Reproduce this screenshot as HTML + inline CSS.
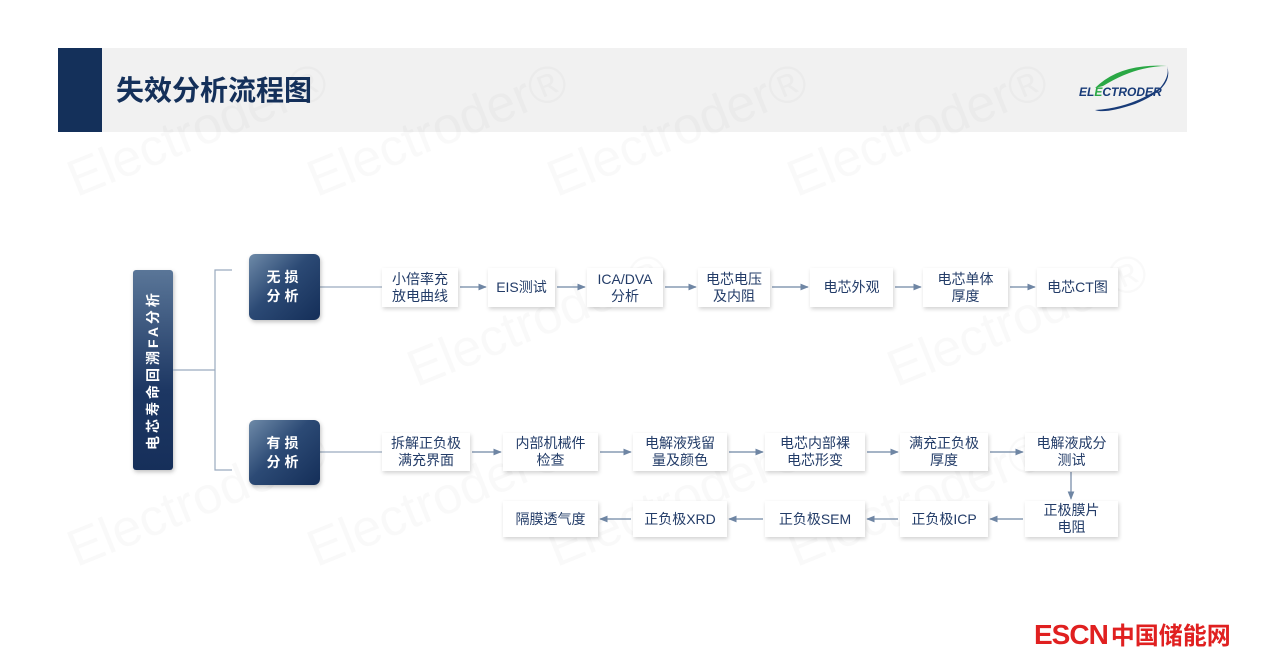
<!DOCTYPE html>
<html><head><meta charset="utf-8"><style>
body{margin:0;width:1268px;height:661px;background:#fff;position:relative;overflow:hidden;font-family:"Liberation Sans","Noto Sans CJK SC",sans-serif}
.a{position:absolute}
.b{position:absolute;background:#fff;box-shadow:1px 2px 4px rgba(0,0,0,.18);display:flex;align-items:center;justify-content:center;text-align:center;font-size:14px;line-height:17px;color:#233c68}
.n{position:absolute;border-radius:6px;background:linear-gradient(135deg,#6e8aa8 0%,#2c4a75 45%,#142e58 100%);color:#fff;font-weight:bold;font-size:14px;line-height:19px;letter-spacing:4px;display:flex;align-items:center;justify-content:center;text-align:center;box-shadow:1px 2px 4px rgba(0,0,0,.25)}
.wm{position:absolute;color:rgba(0,0,0,.022);font-size:52px;transform:rotate(-22deg);white-space:nowrap}
</style></head><body>
<div class="a" style="left:58px;top:48px;width:1129px;height:84px;background:#f1f1f1"></div>
<div class="a" style="left:58px;top:48px;width:44px;height:84px;background:#14305a"></div>
<div class="a" style="left:116px;top:69px;font-size:28px;font-weight:bold;color:#14305a">失效分析流程图</div>
<svg class="a" style="left:1075px;top:58px" width="105" height="60">
<path d="M20 30 Q45 5 92 8 Q60 8 28 28Z" fill="#2aa845"/>
<path d="M92 8 Q100 30 60 46 Q30 56 20 52 Q55 50 85 30 Q95 18 92 8Z" fill="#183b78"/>
<text x="4" y="38" font-family="Liberation Sans" font-weight="bold" font-style="italic" font-size="12" fill="#183b78">EL<tspan fill="#2aa845">E</tspan>CTRODER</text>
</svg>
<div class="wm" style="left:60px;top:100px">Electroder®</div>
<div class="wm" style="left:300px;top:100px">Electroder®</div>
<div class="wm" style="left:540px;top:100px">Electroder®</div>
<div class="wm" style="left:780px;top:100px">Electroder®</div>
<div class="wm" style="left:60px;top:470px">Electroder®</div>
<div class="wm" style="left:300px;top:470px">Electroder®</div>
<div class="wm" style="left:540px;top:470px">Electroder®</div>
<div class="wm" style="left:780px;top:470px">Electroder®</div>
<div class="wm" style="left:400px;top:290px">Electroder®</div>
<div class="wm" style="left:880px;top:290px">Electroder®</div>

<div class="a" style="left:133px;top:270px;width:40px;height:200px;border-radius:3px;background:linear-gradient(180deg,#5a7698,#1d3763 60%,#162f5a);box-shadow:1px 2px 4px rgba(0,0,0,.25)"></div>
<div class="a" style="left:53px;top:350px;width:200px;height:40px;transform:rotate(-90deg);display:flex;align-items:center;justify-content:center;color:#fff;font-weight:bold;font-size:14px;letter-spacing:3px;white-space:nowrap">电芯寿命回溯FA分析</div>

<svg class="a" style="left:0;top:0" width="1268" height="661">
<defs><marker id="m" viewBox="0 0 10 10" refX="9" refY="5" markerWidth="7" markerHeight="7" orient="auto"><path d="M0 1L10 5L0 9Z" fill="#6f86a4"/></marker></defs>
<g stroke="#9aaabf" stroke-width="1.2" fill="none">
<line x1="173" y1="370" x2="215" y2="370"/>
<polyline points="232,270 215,270 215,470 232,470"/>
<line x1="320" y1="287" x2="382" y2="287"/>
<line x1="320" y1="452" x2="382" y2="452"/>
</g>
<g stroke="#6f86a4" stroke-width="1.2" marker-end="url(#m)">
<line x1="460" y1="287" x2="486" y2="287"/>
<line x1="557" y1="287" x2="585" y2="287"/>
<line x1="665" y1="287" x2="696" y2="287"/>
<line x1="772" y1="287" x2="808" y2="287"/>
<line x1="895" y1="287" x2="921" y2="287"/>
<line x1="1010" y1="287" x2="1035" y2="287"/>
<line x1="472" y1="452" x2="501" y2="452"/>
<line x1="600" y1="452" x2="631" y2="452"/>
<line x1="729" y1="452" x2="763" y2="452"/>
<line x1="867" y1="452" x2="898" y2="452"/>
<line x1="990" y1="452" x2="1023" y2="452"/>
<line x1="1071" y1="472" x2="1071" y2="499"/>
<line x1="1023" y1="519" x2="990" y2="519"/>
<line x1="898" y1="519" x2="867" y2="519"/>
<line x1="763" y1="519" x2="729" y2="519"/>
<line x1="631" y1="519" x2="600" y2="519"/>
</g></svg>

<div class="n" style="left:249px;top:254px;width:71px;height:66px">无损<br>分析</div>
<div class="n" style="left:249px;top:420px;width:71px;height:65px">有损<br>分析</div>

<div class="b" style="left:382px;top:268px;width:76px;height:39px">小倍率充<br>放电曲线</div>
<div class="b" style="left:488px;top:268px;width:67px;height:39px">EIS测试</div>
<div class="b" style="left:587px;top:268px;width:76px;height:39px">ICA/DVA<br>分析</div>
<div class="b" style="left:698px;top:268px;width:72px;height:39px">电芯电压<br>及内阻</div>
<div class="b" style="left:810px;top:268px;width:83px;height:39px">电芯外观</div>
<div class="b" style="left:923px;top:268px;width:85px;height:39px">电芯单体<br>厚度</div>
<div class="b" style="left:1037px;top:268px;width:81px;height:39px">电芯CT图</div>

<div class="b" style="left:382px;top:433px;width:88px;height:38px">拆解正负极<br>满充界面</div>
<div class="b" style="left:503px;top:433px;width:95px;height:38px">内部机械件<br>检查</div>
<div class="b" style="left:633px;top:433px;width:94px;height:38px">电解液残留<br>量及颜色</div>
<div class="b" style="left:765px;top:433px;width:100px;height:38px">电芯内部裸<br>电芯形变</div>
<div class="b" style="left:900px;top:433px;width:88px;height:38px">满充正负极<br>厚度</div>
<div class="b" style="left:1025px;top:433px;width:93px;height:38px">电解液成分<br>测试</div>

<div class="b" style="left:503px;top:501px;width:95px;height:36px">隔膜透气度</div>
<div class="b" style="left:633px;top:501px;width:94px;height:36px">正负极XRD</div>
<div class="b" style="left:765px;top:501px;width:100px;height:36px">正负极SEM</div>
<div class="b" style="left:900px;top:501px;width:88px;height:36px">正负极ICP</div>
<div class="b" style="left:1025px;top:501px;width:93px;height:36px">正极膜片<br>电阻</div>

<div class="a" style="left:1034px;top:616px;font-size:28px;font-weight:bold;color:#e02020;letter-spacing:-1px;white-space:nowrap">ESCN<span style="font-size:24px;letter-spacing:0;margin-left:3px">中国储能网</span></div>
</body></html>
